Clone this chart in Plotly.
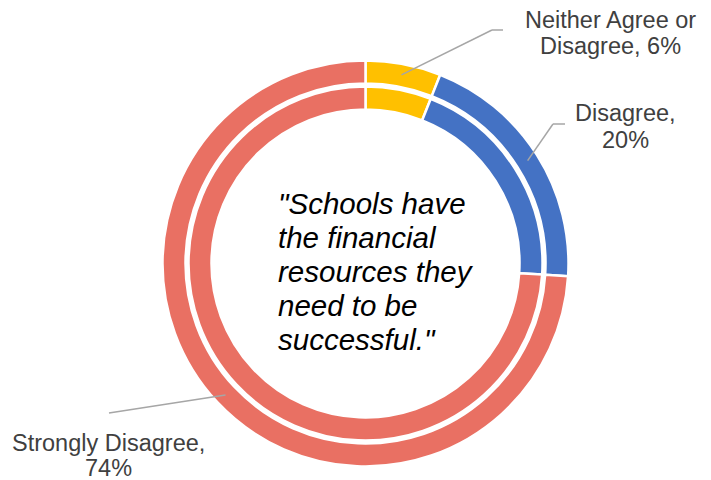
import math
import plotly.graph_objects as go

# Survey responses
categories = ["Neither Agree or Disagree", "Disagree", "Strongly Disagree"]
label_lines = [["Neither Agree or", "Disagree, 6%"], ["Disagree,", "20%"], ["Strongly Disagree,", "74%"]]
outer_values = [6, 20, 74]
inner_values = [6, 20, 74]
colors = ["#FFC000", "#4472C4", "#E97063"]
center_lines = ['"Schools have', "the financial", "resources they", "need to be", 'successful."']

W, H = 711, 480
CX, CY = 365.5, 263.5          # ring centre in pixels (from top-left)
R_OUT, R_OUT_HOLE = 203, 180
R_IN, R_IN_HOLE = 177, 154


def px(x):
    return x / W


def py(y):
    return 1 - y / H


def domain(r):
    return dict(x=[px(CX - r), px(CX + r)], y=[py(CY + r), py(CY - r)])


fig = go.Figure()
for vals, r, hole in [(outer_values, R_OUT, R_OUT_HOLE / R_OUT), (inner_values, R_IN, R_IN_HOLE / R_IN)]:
    fig.add_trace(go.Pie(
        labels=categories, values=vals, hole=hole, sort=False, direction="clockwise",
        rotation=0, domain=domain(r), textinfo="none", hoverinfo="label+percent",
        marker=dict(colors=colors, line=dict(color="white", width=2.5)), showlegend=False,
    ))

# leader lines start at the mid-angle of each slice
total = sum(outer_values)
cum = 0
mids = []
for v in outer_values:
    mids.append((cum + v / 2) / total * 360)
    cum += v
R_LEAD = 192
starts = [(CX + R_LEAD * math.sin(math.radians(a)), CY - R_LEAD * math.cos(math.radians(a))) for a in mids]

elbows = [[(492, 30), (503, 30)], [(553, 124), (565, 124)], [(109, 413)]]
shapes = []
for (sx, sy), pts in zip(starts, elbows):
    path = [(sx, sy)] + pts
    for (x0, y0), (x1, y1) in zip(path[:-1], path[1:]):
        shapes.append(dict(type="line", xref="paper", yref="paper",
                           x0=px(x0), y0=py(y0), x1=px(x1), y1=py(y1),
                           line=dict(color="#A6A6A6", width=1.5)))

annotations = []
label_pos = [(610, [27, 53]), (625, [120, 147]), (108, [450, 475])]
LF = 23.5
for lines, (lx, bases) in zip(label_lines, label_pos):
    for text, b in zip(lines, bases):
        annotations.append(dict(text=text, xref="paper", yref="paper", x=px(lx), y=py(b - 0.3 * LF),
                                xanchor="center", yanchor="middle", showarrow=False,
                                font=dict(family="Liberation Sans, Arial", size=LF, color="#404040")))

CF = 29.5
for i, text in enumerate(center_lines):
    b = 212 + 34 * i
    annotations.append(dict(text=f"<i>{text}</i>", xref="paper", yref="paper", x=px(276), y=py(b - 0.3 * CF),
                            xanchor="left", yanchor="middle", showarrow=False,
                            font=dict(family="Liberation Sans, Arial", size=CF, color="#000000")))

fig.update_layout(width=W, height=H, margin=dict(l=0, r=0, t=0, b=0),
                  paper_bgcolor="white", plot_bgcolor="white",
                  shapes=shapes, annotations=annotations)
fig.write_html("out.html")
